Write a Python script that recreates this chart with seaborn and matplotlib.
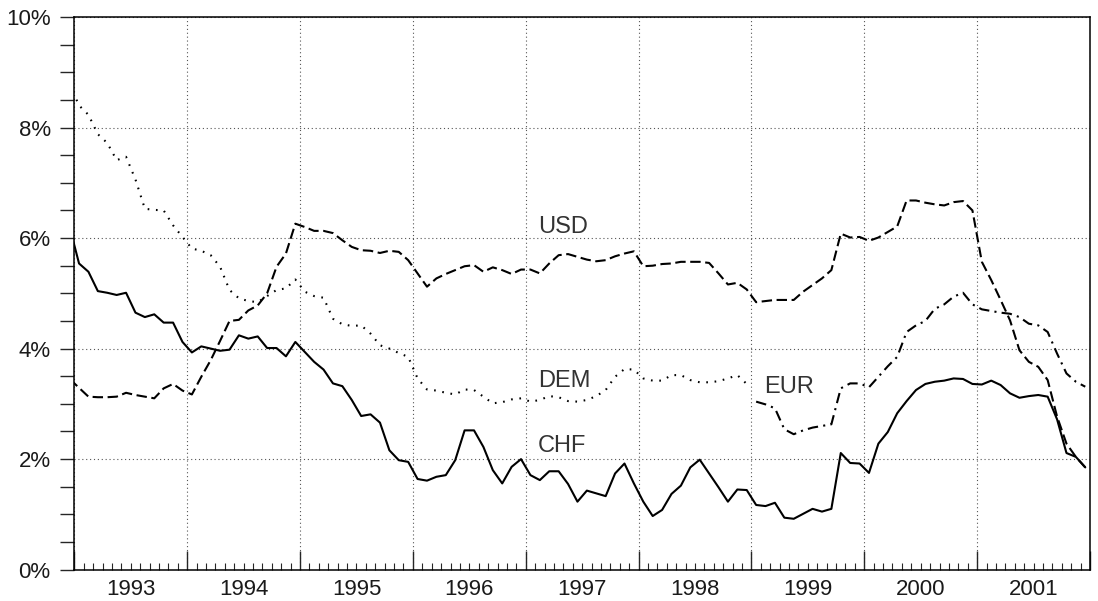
import numpy as np
import pandas as pd
import matplotlib
matplotlib.use("Agg")
import matplotlib.pyplot as plt
from matplotlib.ticker import MultipleLocator, NullFormatter, FuncFormatter
import seaborn as sns

# monthly interest rates in %, first value is Dec 1992 (clipped by the axis)
chf_start = "1992-12"
chf = [6.20, 5.54, 5.39, 5.04, 5.01, 4.97, 5.01, 4.65, 4.57, 4.62, 4.47, 4.47, 4.12,
       3.93, 4.04, 4.00, 3.96, 3.98, 4.24, 4.18, 4.22, 4.01, 4.01, 3.86, 4.12,
       3.94, 3.76, 3.62, 3.37, 3.32, 3.07, 2.78, 2.81, 2.66, 2.16, 1.98, 1.95,
       1.64, 1.61, 1.68, 1.71, 1.98, 2.52, 2.52, 2.22, 1.80, 1.56, 1.86, 2.00,
       1.71, 1.62, 1.78, 1.78, 1.55, 1.23, 1.43, 1.38, 1.33, 1.74, 1.92, 1.56,
       1.23, 0.97, 1.08, 1.37, 1.52, 1.85, 1.99, 1.74, 1.49, 1.23, 1.45, 1.44,
       1.17, 1.15, 1.21, 0.94, 0.92, 1.01, 1.10, 1.05, 1.10, 2.11, 1.93, 1.92,
       1.75, 2.28, 2.49, 2.83, 3.05, 3.25, 3.36, 3.40, 3.42, 3.46, 3.45, 3.36,
       3.35, 3.42, 3.34, 3.19, 3.11, 3.14, 3.16, 3.13, 2.72, 2.11, 2.04, 1.85]

usd_start = "1992-12"
usd = [3.45, 3.29, 3.13, 3.12, 3.12, 3.13, 3.20, 3.16, 3.13, 3.10, 3.28, 3.36, 3.24,
       3.17, 3.49, 3.79, 4.14, 4.50, 4.52, 4.69, 4.78, 5.00, 5.48, 5.72, 6.26,
       6.20, 6.13, 6.13, 6.09, 5.96, 5.84, 5.78, 5.77, 5.73, 5.77, 5.75, 5.60,
       5.36, 5.12, 5.27, 5.35, 5.42, 5.49, 5.51, 5.39, 5.47, 5.42, 5.35, 5.43,
       5.43, 5.36, 5.54, 5.69, 5.71, 5.66, 5.61, 5.58, 5.60, 5.67, 5.72, 5.76,
       5.49, 5.50, 5.53, 5.54, 5.57, 5.57, 5.57, 5.55, 5.36, 5.16, 5.19, 5.07,
       4.84, 4.86, 4.88, 4.88, 4.88, 5.03, 5.15, 5.27, 5.42, 6.08, 6.01, 6.02,
       5.95, 6.01, 6.11, 6.21, 6.68, 6.68, 6.64, 6.61, 6.59, 6.65, 6.67, 6.50,
       5.57, 5.24, 4.88, 4.51, 3.97, 3.76, 3.67, 3.43, 2.77, 2.28, 2.04, 1.85]

dem_start = "1992-12"
dem = [8.78, 8.40, 8.23, 7.88, 7.72, 7.41, 7.47, 7.06, 6.53, 6.51, 6.50, 6.23, 6.02,
       5.81, 5.77, 5.69, 5.48, 5.06, 4.91, 4.86, 4.84, 4.95, 5.06, 5.09, 5.25,
       5.03, 4.95, 4.92, 4.54, 4.44, 4.41, 4.42, 4.27, 4.06, 4.00, 3.92, 3.85,
       3.46, 3.26, 3.24, 3.20, 3.17, 3.26, 3.25, 3.13, 3.01, 3.03, 3.08, 3.10,
       3.04, 3.07, 3.14, 3.12, 3.05, 3.04, 3.07, 3.14, 3.25, 3.49, 3.63, 3.62,
       3.46, 3.42, 3.42, 3.52, 3.52, 3.43, 3.39, 3.39, 3.41, 3.46, 3.52, 3.36]

eur_start = "1999-01"
eur = [3.04, 2.99, 2.92, 2.54, 2.45, 2.52, 2.57, 2.60, 2.63, 3.28, 3.37, 3.37,
       3.30, 3.49, 3.68, 3.85, 4.30, 4.42, 4.50, 4.72, 4.80, 4.94, 5.01, 4.80,
       4.71, 4.68, 4.65, 4.63, 4.57, 4.45, 4.42, 4.30, 3.91, 3.55, 3.40, 3.31]

series_names = ["CHF", "USD", "DEM", "EUR"]


def to_frame(name, start, values):
    months = pd.period_range(start, periods=len(values), freq="M")
    t = months.year + (months.month - 0.5) / 12
    return pd.DataFrame({"t": np.asarray(t, dtype=float), "rate": values, "series": name})


df = pd.concat([to_frame("CHF", chf_start, chf),
                to_frame("USD", usd_start, usd),
                to_frame("DEM", dem_start, dem),
                to_frame("EUR", eur_start, eur)], ignore_index=True)

sns.set_theme(style="ticks")
plt.rcParams["font.family"] = ["Liberation Sans", "DejaVu Sans"]

fig = plt.figure(figsize=(10.98, 6.01), dpi=100)
ax = fig.add_axes([0.0677, 0.0522, 0.9250, 0.9195])

dash_styles = {"CHF": "", "USD": (5, 2.2), "DEM": (0.8, 3.2), "EUR": (5, 2.5, 1, 2.5)}
sns.lineplot(data=df, x="t", y="rate", style="series", style_order=series_names,
             dashes=dash_styles, color="black", linewidth=1.5, estimator=None,
             legend=False, ax=ax)

ax.set_xlim(1993, 2002)
ax.set_ylim(0, 10)
ax.set_xlabel("")
ax.set_ylabel("")


def year_label(x, pos):
    base = np.floor(x)
    if abs(x - base - 0.5) < 1e-6:
        return str(int(base))
    return ""


ax.xaxis.set_major_locator(MultipleLocator(1))
ax.xaxis.set_major_formatter(NullFormatter())
ax.xaxis.set_minor_locator(MultipleLocator(1 / 12))
ax.xaxis.set_minor_formatter(FuncFormatter(year_label))
ax.yaxis.set_major_locator(MultipleLocator(2))
ax.yaxis.set_major_formatter(FuncFormatter(lambda v, p: f"{v:.0f}%"))
ax.yaxis.set_minor_locator(MultipleLocator(0.5))

ax.tick_params(axis="x", which="major", direction="in", length=14, width=1.0)
ax.tick_params(axis="x", which="minor", direction="in", length=5, width=0.8,
               pad=6.5, labelsize=16, labelcolor="#1a1a1a")
ax.tick_params(axis="y", which="both", direction="out", length=10, width=1.0,
               pad=7, labelsize=16, labelcolor="#1a1a1a")

ax.grid(which="major", axis="both", color="#555555", linestyle=(0, (1, 2.5)), linewidth=0.8)
ax.set_axisbelow(True)
for side in ["left", "right", "top", "bottom"]:
    ax.spines[side].set_visible(True)
    ax.spines[side].set_color("black")
    ax.spines[side].set_linewidth(1.1)

# series labels
label_style = dict(fontsize=17, color="#333333", va="baseline", ha="left")
ax.text(1997.11, 6.10, "USD", **label_style)
ax.text(1997.11, 3.30, "DEM", **label_style)
ax.text(1997.11, 2.13, "CHF", **label_style)
ax.text(1999.11, 3.19, "EUR", **label_style)

fig.savefig("out.png", dpi=100)
